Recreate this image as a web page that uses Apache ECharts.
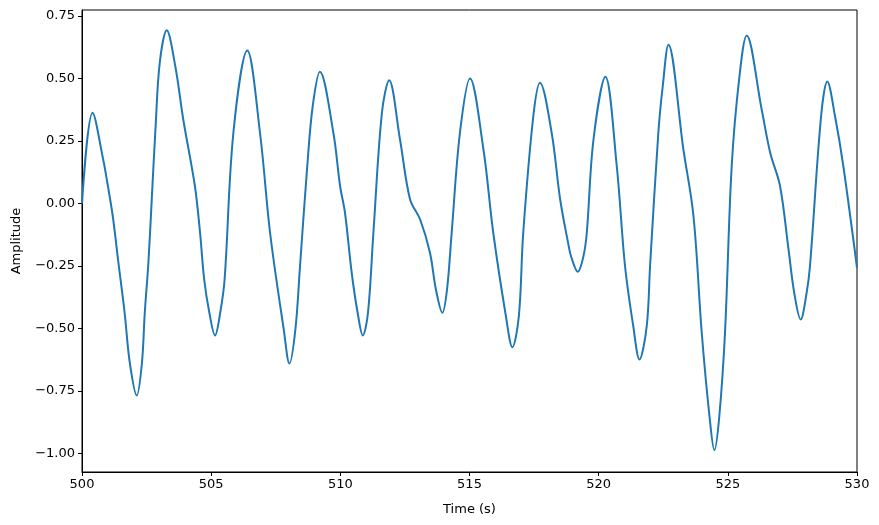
<!DOCTYPE html>
<html>
<head>
<meta charset="utf-8">
<script src="https://cdn.jsdelivr.net/npm/echarts@6/dist/echarts.min.js"></script>
<style>
  html, body { margin: 0; padding: 0; background: #fff; }
  #chart { width: 879px; height: 525px; }
</style>
</head>
<body>
<div id="chart"></div>
<script>
// values
const times = [
  500.0, 500.41, 500.82, 500.96, 501.19, 501.41, 501.65, 501.85, 502.12, 502.32,
  502.43, 502.57, 502.70, 502.85, 503.01, 503.28, 503.61, 503.92, 504.37, 504.57,
  504.73, 504.93, 505.15, 505.35, 505.52, 505.86, 506.40, 506.89,
  507.28, 507.81, 508.03, 508.26, 508.44, 508.72, 508.93, 509.21, 509.73,
  509.99, 510.18, 510.44, 510.67, 510.87, 511.07, 511.28, 511.61, 511.89,
  512.31, 512.70, 513.09, 513.47, 513.70, 513.95, 514.13, 514.31, 514.63, 515.02,
  515.54, 515.92, 516.41, 516.66, 516.91, 517.08, 517.47, 517.73,
  518.18, 518.51, 518.84, 518.93, 519.19, 519.41, 519.54, 519.80, 520.26,
  520.70, 521.02, 521.34, 521.58, 521.86, 521.99, 522.31, 522.48, 522.70,
  523.28, 523.67, 523.99, 524.29, 524.48, 524.67, 524.89, 525.15, 525.45,
  525.73, 526.31, 526.64, 527.02, 527.35, 527.57, 527.82, 528.05, 528.18,
  528.61, 528.85, 529.15, 529.47, 530.0,
];
const amplitude = [
  0.0, 0.363, 0.176, 0.096, -0.05, -0.237, -0.437, -0.637, -0.768, -0.637,
  -0.437, -0.237, 0.016, 0.31, 0.563, 0.693, 0.55, 0.336, 0.07, -0.117,
  -0.304, -0.437, -0.528, -0.437, -0.304, 0.283, 0.612, 0.283,
  -0.117, -0.504, -0.64, -0.504, -0.25, 0.15, 0.389, 0.527, 0.283,
  0.07, -0.037, -0.277, -0.437, -0.528, -0.437, -0.117, 0.363, 0.493,
  0.256, 0.016, -0.064, -0.197, -0.344, -0.437, -0.344, -0.117, 0.283, 0.5,
  0.216, -0.117, -0.451, -0.575, -0.451, -0.117, 0.349, 0.483,
  0.283, 0.016, -0.17, -0.211, -0.273, -0.211, -0.117, 0.256, 0.507,
  0.15, -0.25, -0.491, -0.624, -0.491, -0.25, 0.283, 0.469, 0.635,
  0.216, -0.05, -0.517, -0.851, -0.987, -0.851, -0.517, 0.15, 0.509,
  0.672, 0.376, 0.203, 0.07, -0.184, -0.357, -0.464, -0.357, -0.25,
  0.349, 0.488, 0.349, 0.15, -0.257,
];
const xTicks = [500, 505, 510, 515, 520, 525, 530];
const yTicks = [-1.0, -0.75, -0.5, -0.25, 0.0, 0.25, 0.5, 0.75];

const fontFamily = "DejaVu Sans";
const chart = echarts.init(document.getElementById("chart"));
const seriesData = times.map((t, i) => [t, amplitude[i]]);
const option = {
  animation: false,
  grid: {
    left: 82,
    right: 22,
    top: 10,
    bottom: 53,
    outerBoundsMode: "none",
    containLabel: false,
    show: true,
    borderColor: "#000",
    borderWidth: 1,
  },
  xAxis: {
    type: "value",
    min: 500,
    max: 530,
    interval: 5,
    name: "Time (s)",
    nameLocation: "middle",
    nameGap: 31,
    nameTextStyle: { color: "#000", fontSize: 13, fontFamily },
    axisLine: { show: true, onZero: false, lineStyle: { color: "#000", width: 1 } },
    axisTick: {
      show: true,
      length: 4,
      lineStyle: { color: "#000" },
      customValues: xTicks,
    },
    axisLabel: {
      color: "#000",
      fontSize: 13,
      fontFamily,
      margin: 6,
      customValues: xTicks,
      formatter: (v) => String(Math.round(v)),
    },
    splitLine: { show: false },
  },
  yAxis: {
    type: "value",
    min: -1.074,
    max: 0.774,
    name: "Amplitude",
    nameLocation: "middle",
    nameGap: 59,
    nameTextStyle: { color: "#000", fontSize: 13, fontFamily },
    axisLine: { show: true, onZero: false, lineStyle: { color: "#000", width: 1 } },
    axisTick: {
      show: true,
      length: 4,
      lineStyle: { color: "#000" },
      customValues: yTicks,
    },
    axisLabel: {
      color: "#000",
      fontSize: 13,
      fontFamily,
      margin: 7,
      customValues: yTicks,
      formatter: (v) => v.toFixed(2).replace("-", "\u2212"),
    },
    splitLine: { show: false },
  },
  series: [
    {
      type: "line",
      data: seriesData,
      showSymbol: false,
      smooth: 0.35,
      lineStyle: { color: "#1f77b4", width: 2 },
      clip: true,
    },
  ],
};
chart.setOption(option);
</script>
</body>
</html>
